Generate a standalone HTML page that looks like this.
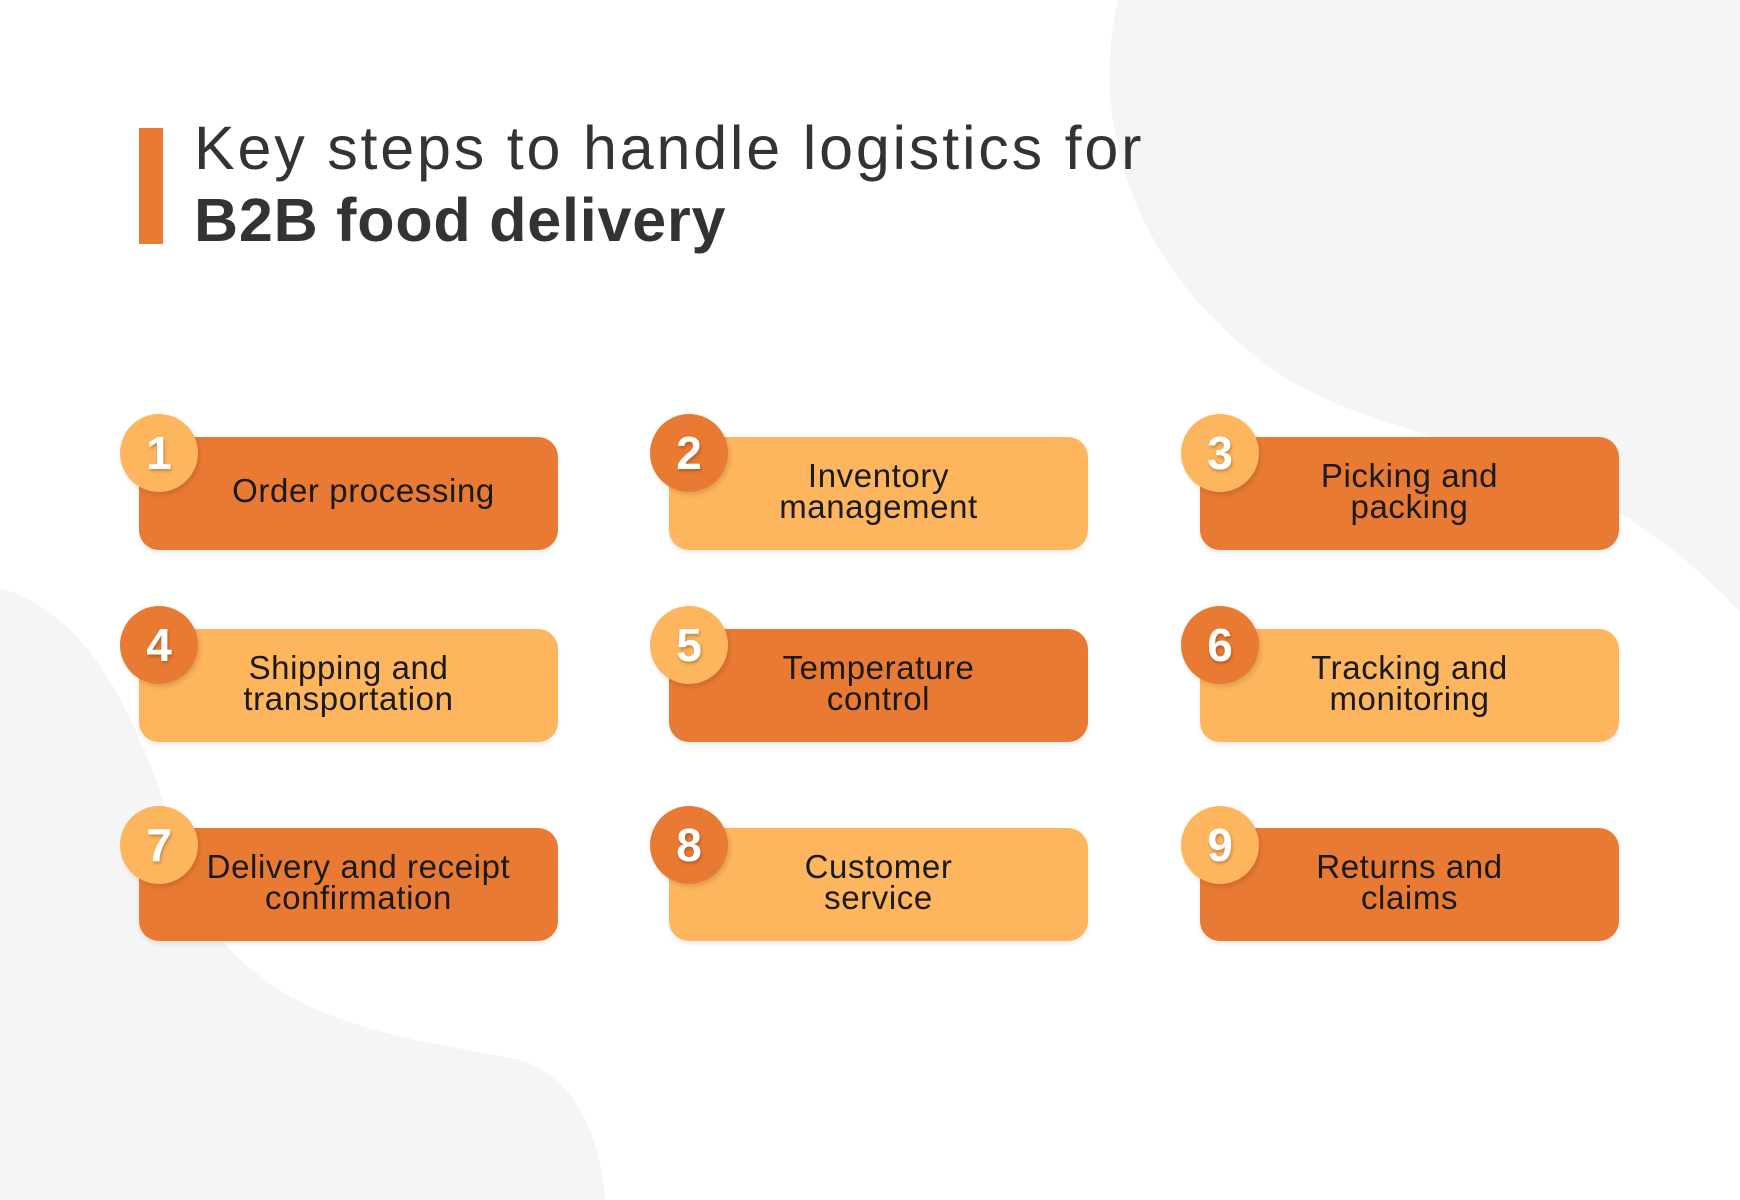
<!DOCTYPE html>
<html><head><meta charset="utf-8"><style>
*{margin:0;padding:0;box-sizing:border-box}
body{width:1740px;height:1200px;position:relative;overflow:hidden;background:#fff;font-family:"Liberation Sans",sans-serif}
.card{position:absolute;width:419px;height:113px;border-radius:20px;display:flex;align-items:center;justify-content:center;text-align:center;font-size:33px;line-height:31px;letter-spacing:0.6px;color:#1a1a1a;box-shadow:0 3px 5px rgba(0,0,0,0.08);padding-bottom:6px}
.d{background:#E97A33}.l{background:#FDB55E}
.c{position:absolute;width:78px;height:78px;border-radius:50%;color:#fff;font-weight:bold;font-size:46px;display:flex;align-items:center;justify-content:center;text-shadow:1px 2px 3px rgba(0,0,0,0.25);box-shadow:2px 3px 5px rgba(0,0,0,0.12)}
.cd{background:#E97A33}.cl{background:#FDB55E}
</style></head><body>
<svg width="1740" height="1200" style="position:absolute;left:0;top:0">
<path d="M1118 0 C1090 120 1130 260 1260 360 C1390 460 1560 420 1740 612 L1740 0 Z" fill="#f5f5f5"/>
<path d="M0 588 C110 620 150 760 190 880 C240 1030 430 1040 520 1060 C580 1080 600 1140 605 1200 L0 1200 Z" fill="#f5f5f5"/>
</svg>
<div style="position:absolute;left:139px;top:128px;width:24px;height:116px;background:#E97A33"></div>
<div style="position:absolute;left:194px;top:112px;font-size:61px;line-height:72px;color:#333;letter-spacing:2.8px;white-space:nowrap">Key steps to handle logistics for</div>
<div style="position:absolute;left:194px;top:184px;font-size:61px;line-height:72px;color:#333;font-weight:bold;letter-spacing:0.8px;white-space:nowrap">B2B food delivery</div>

<div class="card d" style="left:139px;top:437px;padding-left:30px">Order processing</div>
<div class="card l" style="left:669px;top:437px">Inventory<br>management</div>
<div class="card d" style="left:1200px;top:437px">Picking and<br>packing</div>
<div class="card l" style="left:139px;top:629px">Shipping and<br>transportation</div>
<div class="card d" style="left:669px;top:629px">Temperature<br>control</div>
<div class="card l" style="left:1200px;top:629px">Tracking and<br>monitoring</div>
<div class="card d" style="left:139px;top:828px;padding-left:20px">Delivery and receipt<br>confirmation</div>
<div class="card l" style="left:669px;top:828px">Customer<br>service</div>
<div class="card d" style="left:1200px;top:828px">Returns and<br>claims</div>

<div class="c cl" style="left:120px;top:414px">1</div>
<div class="c cd" style="left:650px;top:414px">2</div>
<div class="c cl" style="left:1181px;top:414px">3</div>
<div class="c cd" style="left:120px;top:606px">4</div>
<div class="c cl" style="left:650px;top:606px">5</div>
<div class="c cd" style="left:1181px;top:606px">6</div>
<div class="c cl" style="left:120px;top:806px">7</div>
<div class="c cd" style="left:650px;top:806px">8</div>
<div class="c cl" style="left:1181px;top:806px">9</div>
</body></html>
